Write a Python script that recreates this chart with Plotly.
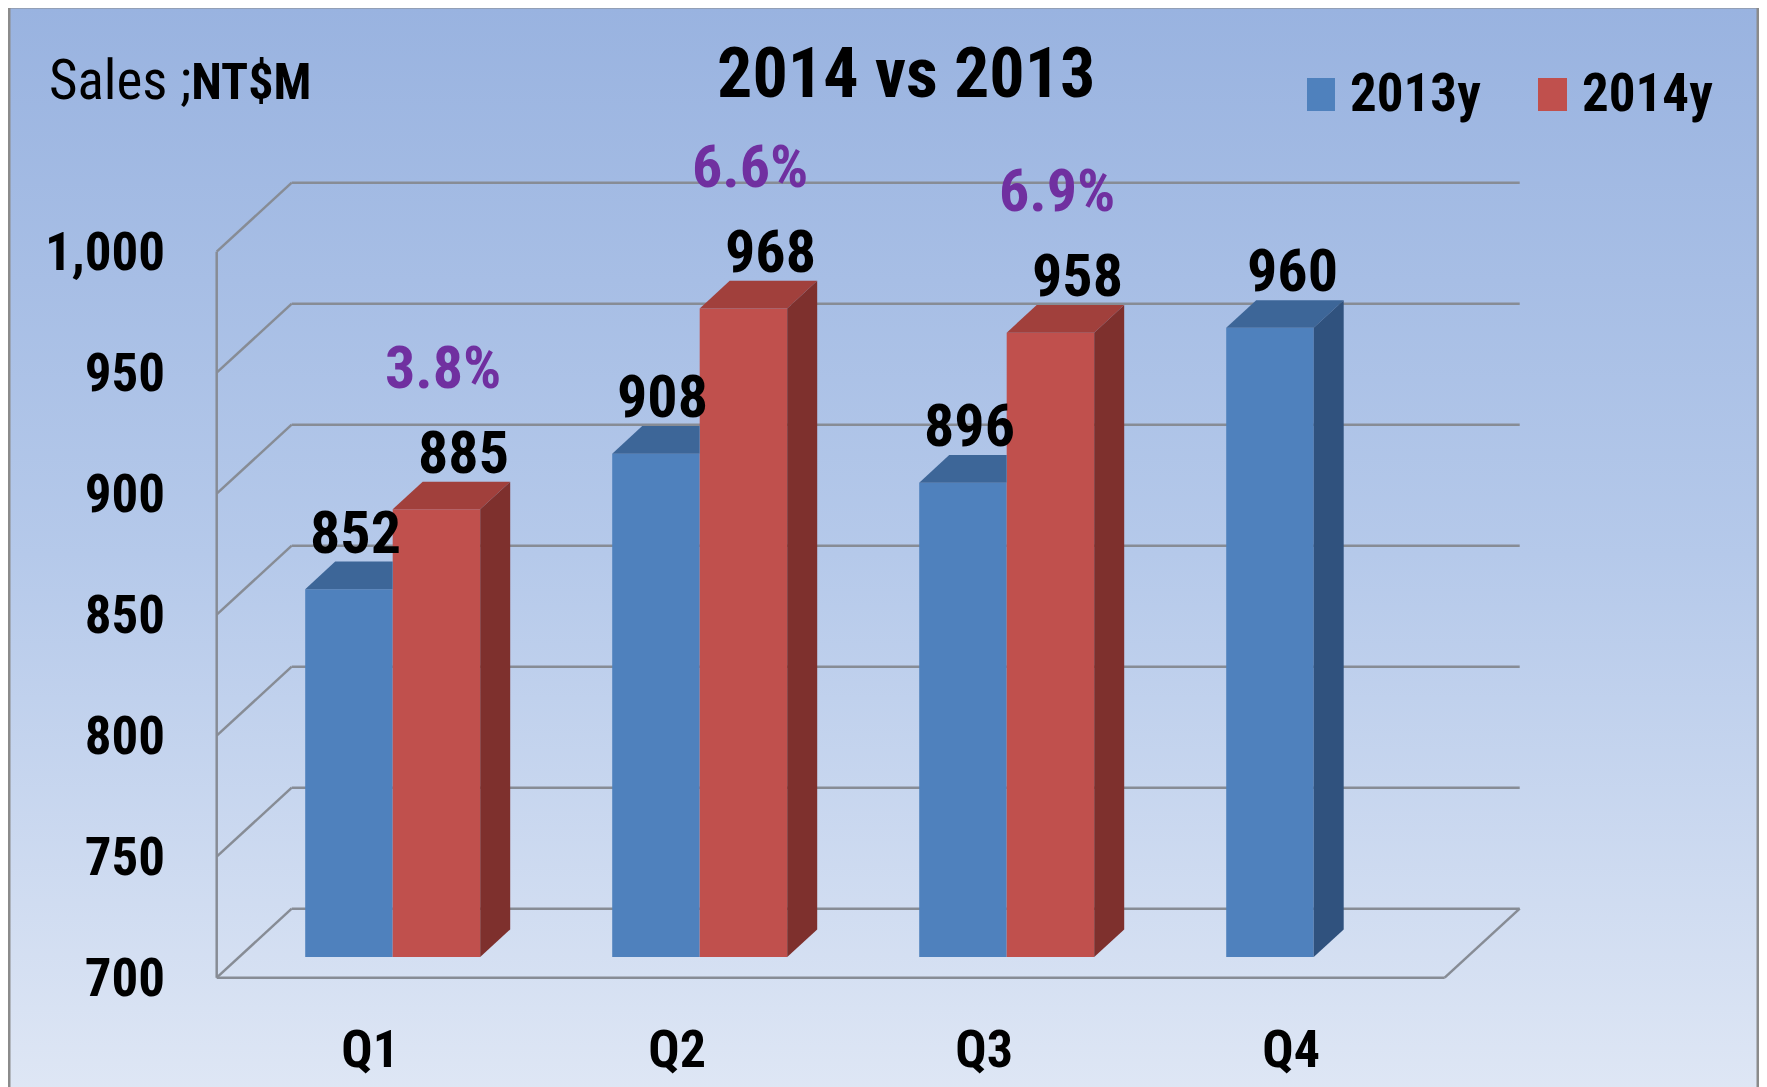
import base64
import plotly.graph_objects as go

# ---------------- data ----------------
quarters = ["Q1", "Q2", "Q3", "Q4"]
series_names = ["2013y", "2014y"]
sales_2013 = [852, 908, 896, 960]
sales_2014 = [885, 968, 958, None]
growth_labels = ["3.8%", "6.6%", "6.9%", None]
y_ticks = [700, 750, 800, 850, 900, 950, 1000]

# ---------------- layout constants (window pixels) ----------------
WIN_W, WIN_H = 1767, 1087
OX, OY = 8, 8                              # page body margin of the html
FIG_W, FIG_H = WIN_W - OX, WIN_H - OY
L, R, T, B = 200, 1540, 140, 1000          # plot area in window pixels
PW, PH = R - L, B - T
CAT_PX = 307.0                             # pixels per category
UNIT_PX = 2.42                             # pixels per sales unit
X0_PX = 392.7                              # pixel of category index 0 (bar plane)
BASE_VAL = 700
BASE_PX = 957.0                            # pixel of 700 on bar plane
x_range = [(L - X0_PX) / CAT_PX, (R - X0_PX) / CAT_PX]
y_range = [BASE_VAL - (B - BASE_PX) / UNIT_PX, BASE_VAL + (BASE_PX - T) / UNIT_PX]

DEPTH_DX = 75 / CAT_PX                     # full floor depth in data units
DEPTH_DY = 69 / UNIT_PX
FRONT = 0.3                                # bar front face depth fraction
BAR_D = 0.4                                # bar depth fraction
BARGAP = 0.43
BAR_W = (1 - BARGAP) / 2

FONT = "Liberation Sans Narrow, Arial Narrow, Roboto Condensed, DejaVu Sans Condensed, sans-serif"
BLUE, BLUE_TOP, BLUE_SIDE = "#4F81BD", "#3D6698", "#30527E"
RED, RED_TOP, RED_SIDE = "#C0504D", "#A1403C", "#7E302D"
PURPLE = "#7030A0"
GRID = "#878C95"


def pxx(px):
    return (px - L) / PW


def pxy(py):
    return (B - py) / PH


def clip(poly, axis, c, greater):
    out = []
    n = len(poly)
    for k in range(n):
        P, Q = poly[k], poly[(k + 1) % n]
        inP = P[axis] >= c if greater else P[axis] <= c
        inQ = Q[axis] >= c if greater else Q[axis] <= c
        if inP:
            out.append(P)
        if inP != inQ:
            t = (c - P[axis]) / (Q[axis] - P[axis])
            out.append((P[0] + t * (Q[0] - P[0]), P[1] + t * (Q[1] - P[1])))
    return out


def area(poly):
    if len(poly) < 3:
        return 0
    s = 0
    for k in range(len(poly)):
        x1, y1 = poly[k]
        x2, y2 = poly[(k + 1) % len(poly)]
        s += x1 * y2 - x2 * y1
    return abs(s) / 2


fig = go.Figure()

xs = list(range(len(quarters)))
fig.add_trace(go.Bar(x=xs, y=[v - BASE_VAL if v is not None else None for v in sales_2013],
                     base=BASE_VAL, name=series_names[0], marker=dict(color=BLUE, line=dict(width=0))))
fig.add_trace(go.Bar(x=xs, y=[v - BASE_VAL if v is not None else None for v in sales_2014],
                     base=BASE_VAL, name=series_names[1], marker=dict(color=RED, line=dict(width=0))))

# ---------------- 3D faces of the bars ----------------
dx, dy = BAR_D * DEPTH_DX, BAR_D * DEPTH_DY
polys = []
for i in xs:
    vb, vr = sales_2013[i], sales_2014[i]
    if vb is not None:
        x0, x1 = i - BAR_W, i
        top = [(x0, vb), (x1, vb), (x1 + dx, vb + dy), (x0 + dx, vb + dy)]
        side = [(x1, BASE_VAL), (x1, vb), (x1 + dx, vb + dy), (x1 + dx, BASE_VAL + dy)]
        for face, col in ((top, BLUE_TOP), (side, BLUE_SIDE)):
            if vr is None:
                pieces = [face]
            else:
                pieces = [clip(face, 0, x1, False), clip(clip(face, 0, x1, True), 1, vr, True)]
            for p in pieces:
                if area(p) > 1e-6:
                    polys.append((p, col))
    if vr is not None:
        x0, x1 = i, i + BAR_W
        top = [(x0, vr), (x1, vr), (x1 + dx, vr + dy), (x0 + dx, vr + dy)]
        side = [(x1, BASE_VAL), (x1, vr), (x1 + dx, vr + dy), (x1 + dx, BASE_VAL + dy)]
        polys.append((top, RED_TOP))
        polys.append((side, RED_SIDE))

for p, col in polys:
    fig.add_trace(go.Scatter(x=[q[0] for q in p] + [p[0][0]], y=[q[1] for q in p] + [p[0][1]],
                             mode="lines", fill="toself", fillcolor=col, line=dict(width=0),
                             hoverinfo="skip", showlegend=False))

# ---------------- 3D frame (walls / floor) ----------------
xl_f = -0.5 - FRONT * DEPTH_DX
xl_b = -0.5 + (1 - FRONT) * DEPTH_DX
xr_f = len(quarters) - 0.5 - FRONT * DEPTH_DX
xr_b = len(quarters) - 0.5 + (1 - FRONT) * DEPTH_DX
f_off = -FRONT * DEPTH_DY
b_off = (1 - FRONT) * DEPTH_DY
shapes = []
line = dict(color=GRID, width=2.5)
for t in y_ticks:
    shapes.append(dict(type="line", xref="x", yref="y", x0=xl_f, y0=t + f_off, x1=xl_b, y1=t + b_off,
                       line=line, layer="below"))
    shapes.append(dict(type="line", xref="x", yref="y", x0=xl_b, y0=t + b_off, x1=xr_b, y1=t + b_off,
                       line=line, layer="below"))
shapes.append(dict(type="line", xref="x", yref="y", x0=xl_f, y0=y_ticks[0] + f_off, x1=xl_f,
                   y1=y_ticks[-1] + f_off, line=line, layer="below"))
shapes.append(dict(type="line", xref="x", yref="y", x0=xl_f, y0=y_ticks[0] + f_off, x1=xr_f,
                   y1=y_ticks[0] + f_off, line=line, layer="below"))
shapes.append(dict(type="line", xref="x", yref="y", x0=xr_f, y0=y_ticks[0] + f_off, x1=xr_b,
                   y1=y_ticks[0] + b_off, line=line, layer="below"))

# legend squares
shapes.append(dict(type="rect", xref="paper", yref="paper", x0=pxx(1307), x1=pxx(1335), y0=pxy(111),
                   y1=pxy(78), fillcolor=BLUE, line=dict(width=0)))
shapes.append(dict(type="rect", xref="paper", yref="paper", x0=pxx(1538), x1=pxx(1567), y0=pxy(111),
                   y1=pxy(78), fillcolor=RED, line=dict(width=0)))
# chart border
shapes.append(dict(type="rect", xref="paper", yref="paper", x0=pxx(9), x1=pxx(1758), y0=pxy(1100),
                   y1=pxy(7), line=dict(color="#8B8B8B", width=3)))

# ---------------- annotations ----------------
ann = []
lab_font = dict(family=FONT, size=60, color="black", weight=700)
for i in xs:
    vb, vr = sales_2013[i], sales_2014[i]
    if vb is not None:
        ann.append(dict(x=i - BAR_W / 2 + dx / 2, y=vb, xref="x", yref="y", text=f"{vb:,}",
                        showarrow=False, yshift=57, xshift=(-8 if vr is not None else 8), font=lab_font))
    if vr is not None:
        ann.append(dict(x=i + BAR_W / 2 + dx / 2, y=vr, xref="x", yref="y", text=f"{vr:,}",
                        showarrow=False, yshift=57, xshift=12, font=lab_font))
    if growth_labels[i] is not None and vr is not None:
        ann.append(dict(x=i, y=vr, xref="x", yref="y", text=growth_labels[i], showarrow=False,
                        yshift=142, xshift=50, font=dict(family=FONT, size=60, color=PURPLE, weight=700)))

ann.append(dict(x=pxx(905.5), y=pxy(73), xref="paper", yref="paper", text="<b>2014 vs 2013</b>",
                showarrow=False, xanchor="center", yanchor="middle",
                font=dict(family=FONT, size=70, color="black")))
ann.append(dict(x=pxx(47), y=pxy(80), xref="paper", yref="paper",
                text="Sales ;<b><span style='font-size:50px'>NT$M</span></b>",
                showarrow=False, xanchor="left", yanchor="middle",
                font=dict(family=FONT, size=55, color="black")))
ann.append(dict(x=pxx(1348), y=pxy(93), xref="paper", yref="paper", text=f"<b>{series_names[0]}</b>",
                showarrow=False, xanchor="left", yanchor="middle",
                font=dict(family=FONT, size=53, color="black")))
ann.append(dict(x=pxx(1580), y=pxy(93), xref="paper", yref="paper", text=f"<b>{series_names[1]}</b>",
                showarrow=False, xanchor="left", yanchor="middle",
                font=dict(family=FONT, size=53, color="black")))

# ---------------- background gradient ----------------
svg = ('<svg xmlns="http://www.w3.org/2000/svg" width="400" height="400" preserveAspectRatio="none">'
       '<defs><linearGradient id="g" x1="0" y1="0" x2="0" y2="1">'
       '<stop offset="0" stop-color="#99B3E0"/><stop offset="0.5" stop-color="#B5C9EA"/>'
       '<stop offset="1" stop-color="#DFE7F5"/></linearGradient></defs>'
       '<rect width="400" height="400" fill="url(#g)"/></svg>')
src = "data:image/svg+xml;base64," + base64.b64encode(svg.encode()).decode()

fig.update_layout(
    width=FIG_W, height=FIG_H,
    margin=dict(l=L - OX, r=OX + FIG_W - R, t=T - OY, b=OY + FIG_H - B, autoexpand=False),
    paper_bgcolor="white", plot_bgcolor="rgba(0,0,0,0)",
    barmode="group", bargap=BARGAP, bargroupgap=0,
    showlegend=False,
    shapes=shapes, annotations=ann,
    images=[dict(source=src, xref="paper", yref="paper", x=pxx(9), y=pxy(7),
                 sizex=(1758 - 9) / PW, sizey=(1100 - 7) / PH, xanchor="left", yanchor="top",
                 sizing="stretch", layer="below")],
    xaxis=dict(range=x_range, showgrid=False, zeroline=False, showline=False,
               tickmode="array", tickvals=[i - FRONT * DEPTH_DX for i in xs], ticktext=quarters,
               tickfont=dict(family=FONT, size=52, color="black", weight=700), ticklabelstandoff=14),
    yaxis=dict(range=y_range, showgrid=False, zeroline=False, showline=False,
               tickmode="array", tickvals=[t + f_off for t in y_ticks],
               ticktext=[f"{t:,}" for t in y_ticks],
               tickfont=dict(family=FONT, size=53, color="black", weight=700), ticklabelstandoff=34),
)

fig.write_html("out.html")
